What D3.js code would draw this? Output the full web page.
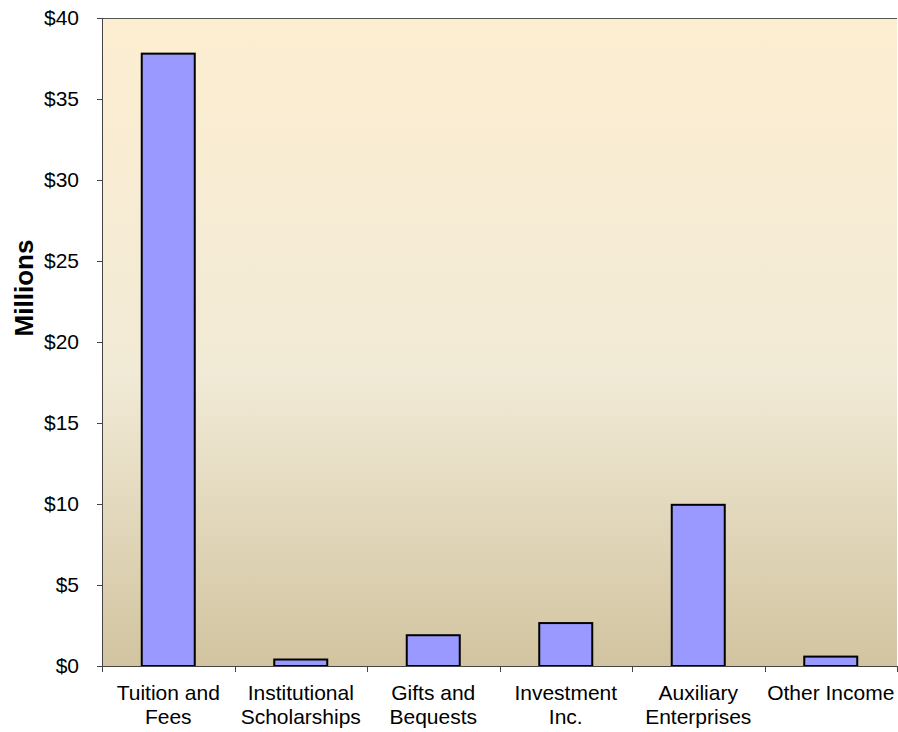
<!DOCTYPE html>
<html>
<head>
<meta charset="utf-8">
<style>
  html, body { margin:0; padding:0; background:#fff; }
  svg { display:block; font-family: "Liberation Sans", Arial, sans-serif; }
</style>
<script src="https://d3js.org/d3.v7.min.js"></script>
</head>
<body>
<svg id="chart" width="898" height="732"></svg>
<script>
var categories = ["Tuition and\nFees", "Institutional\nScholarships", "Gifts and\nBequests", "Investment\nInc.", "Auxiliary\nEnterprises", "Other Income"];
var values = [37.8, 0.4, 1.9, 2.65, 9.95, 0.58];
var yTicks = [0, 5, 10, 15, 20, 25, 30, 35, 40];

var svg = d3.select('#chart');
var plotL = 102, plotR = 897, plotT = 18, plotB = 666;

var defs = svg.append('defs');
var grad = defs.append('linearGradient').attr('id', 'bg')
    .attr('x1', 0).attr('y1', 0).attr('x2', 0).attr('y2', 1);
grad.append('stop').attr('offset', '0%').attr('stop-color', '#fdeed1');
grad.append('stop').attr('offset', '55%').attr('stop-color', '#f1ead6');
grad.append('stop').attr('offset', '100%').attr('stop-color', '#d2c4a0');

var x = d3.scaleBand().domain(categories).range([plotL, plotR]).paddingInner(0).paddingOuter(0);
var y = d3.scaleLinear().domain([0, 40]).range([plotB, plotT]);

// plot background
svg.append('rect')
    .attr('x', plotL).attr('y', plotT)
    .attr('width', plotR - plotL).attr('height', plotB - plotT)
    .attr('fill', 'url(#bg)');
svg.append('line')
    .attr('x1', plotL).attr('x2', plotR).attr('y1', plotT + 0.5).attr('y2', plotT + 0.5)
    .attr('stroke', '#555').attr('stroke-width', 1);

// bars
var bw = x.bandwidth() * 0.4;
svg.selectAll('rect.bar')
    .data(values)
    .enter()
    .append('rect')
    .attr('class', 'bar')
    .attr('x', function (d, i) { return x(categories[i]) + (x.bandwidth() - bw) / 2; })
    .attr('y', function (d) { return y(d); })
    .attr('width', bw)
    .attr('height', function (d) { return plotB - y(d); })
    .attr('fill', '#9999ff')
    .attr('stroke', '#000')
    .attr('stroke-width', 2);

// y axis
var yAxis = svg.append('g')
    .attr('transform', 'translate(' + plotL + ',0)')
    .call(d3.axisLeft(y).tickValues(yTicks).tickSize(5).tickPadding(18)
        .tickFormat(function (d) { return '$' + d; }));
yAxis.select('.domain').attr('stroke', '#444').attr('d', 'M0.5,' + plotT + 'V' + plotB);
yAxis.selectAll('.tick line').attr('stroke', '#444');
yAxis.selectAll('.tick text').attr('font-size', '21px').attr('fill', '#000')
    .attr('font-family', '"Liberation Sans", Arial, sans-serif');

// x axis
var xAxis = svg.append('g')
    .attr('transform', 'translate(0,' + plotB + ')');
xAxis.append('line')
    .attr('x1', plotL).attr('x2', plotR).attr('y1', 0.5).attr('y2', 0.5)
    .attr('stroke', '#444');
var bounds = categories.map(function (c) { return x(c); }).concat([plotR]);
xAxis.selectAll('line.tk')
    .data(bounds)
    .enter()
    .append('line')
    .attr('class', 'tk')
    .attr('x1', function (d) { return Math.round(d) + 0.5; })
    .attr('x2', function (d) { return Math.round(d) + 0.5; })
    .attr('y1', 0).attr('y2', 6)
    .attr('stroke', '#444');

var labels = xAxis.selectAll('text.cat')
    .data(categories)
    .enter()
    .append('text')
    .attr('class', 'cat')
    .attr('text-anchor', 'middle')
    .attr('font-size', '21px')
    .attr('x', function (d) { return x(d) + x.bandwidth() / 2; })
    .attr('y', 0);
labels.each(function (d) {
    var t = d3.select(this);
    d.split('\n').forEach(function (line, i) {
        t.append('tspan')
            .attr('x', x(d) + x.bandwidth() / 2)
            .attr('y', 34 + i * 23.5)
            .text(line);
    });
});

// y title
svg.append('text')
    .attr('transform', 'translate(33,288) rotate(-90)')
    .attr('text-anchor', 'middle')
    .attr('font-size', '26px')
    .attr('font-weight', 'bold')
    .text('Millions');
</script>
</body>
</html>
